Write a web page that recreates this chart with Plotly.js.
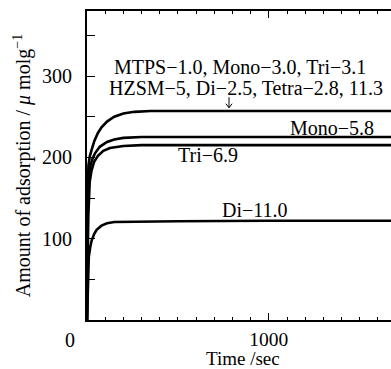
<!DOCTYPE html>
<html>
<head>
<meta charset="utf-8">
<script src="https://cdn.plot.ly/plotly-3.0.1.min.js"></script>
<style>html,body{margin:0;padding:0;background:#fff;overflow:hidden;}</style>
</head>
<body>
<div id="chart" style="width:391px;height:369px;"></div>
<script>
// Data (time in s, amount in µmol/g)
const seriesNames = ["MTPS-1.0, Mono-3.0, Tri-3.1, HZSM-5, Di-2.5, Tetra-2.8, 11.3", "Mono-5.8", "Tri-6.9", "Di-11.0"];
const t1 = [0, 3, 8, 15, 25, 40, 60, 80, 110, 150, 200, 260, 350, 500, 1000, 2000];
const y1 = [0, 150, 190, 201, 209, 220, 230, 237, 244, 250, 254, 256, 257, 257, 257, 257];
const t2 = [0, 5, 12, 20, 30, 44, 70, 110, 150, 200, 300, 1000, 2000];
const y2 = [0, 140, 180, 191, 198, 205, 213, 219, 222, 224, 225, 225, 225];
const t3 = [0, 7, 15, 25, 40, 60, 90, 126, 200, 300, 1000, 2000];
const y3 = [0, 128, 170, 184, 195, 202, 208, 211.5, 214, 215, 215, 215];
const t4 = [0, 5, 10, 18, 26, 40, 53, 80, 110, 150, 250, 500, 1000, 2000];
const y4 = [0, 55, 78, 90, 98, 106, 111, 116, 119, 120.5, 121, 121.5, 122, 122];
const yTickVals = [100, 200, 300];
const xTickVals = [1000];

const lineStyle = {color: "#000", width: 2.6};
const traces = [
  {x: t1, y: y1, name: seriesNames[0]},
  {x: t2, y: y2, name: seriesNames[1]},
  {x: t3, y: y3, name: seriesNames[2]},
  {x: t4, y: y4, name: seriesNames[3]}
].map(tr => Object.assign(tr, {type: "scatter", mode: "lines", line: lineStyle, showlegend: false, hoverinfo: "skip"}));

const serif = "Liberation Serif, Times New Roman, serif";
const fs = 20;
const layout = {
  width: 391, height: 369,
  margin: {l: 87, r: 0, t: 11, b: 49},
  paper_bgcolor: "#fff", plot_bgcolor: "#fff",
  font: {family: serif, size: fs, color: "#000"},
  showlegend: false,
  xaxis: {
    range: [0, 1672], showgrid: false, zeroline: false,
    showline: true, linewidth: 2, linecolor: "#000", mirror: "ticks",
    ticks: "inside", ticklen: 7, tickwidth: 1, tickcolor: "#000",
    tickvals: xTickVals, ticklabelstandoff: 1,
    minor: {dtick: 100, tick0: 0, ticks: "inside", ticklen: 3, tickwidth: 1, tickcolor: "#000"},
    tickfont: {family: serif, size: 19.5}
  },
  yaxis: {
    range: [0, 380], showgrid: false, zeroline: false,
    showline: true, linewidth: 2, linecolor: "#000", mirror: false,
    ticks: "inside", ticklen: 8, tickwidth: 1, tickcolor: "#000",
    tickvals: yTickVals, ticklabelstandoff: 9,
    minor: {dtick: 50, tick0: 0, ticks: "inside", ticklen: 8, tickwidth: 1, tickcolor: "#000"},
    tickfont: {family: serif, size: fs},
    title: {text: "Amount of adsorption / <i>μ</i> molg<sup>−1</sup>", font: {family: serif, size: fs}, standoff: 6}
  },
  shapes: [
    {type: "line", xref: "x", yref: "y", x0: 781, x1: 781, y0: 274, y1: 261, line: {color: "#000", width: 1}},
    {type: "path", xref: "x", yref: "y", path: "M 764,266 L 781,261 L 798,266", line: {color: "#000", width: 1}}
  ],
  annotations: [
    {xref: "paper", yref: "paper", x: -17/304, y: -20/309, xanchor: "center", yanchor: "middle", text: "0", showarrow: false, font: {family: serif, size: fs}},
    {xref: "paper", yref: "paper", x: 156/304, y: -38/309, xanchor: "center", yanchor: "middle", text: "Time /sec", showarrow: false, font: {family: serif, size: 19}},
    {xref: "x", yref: "y", x: 841, y: 311, text: "MTPS−1.0, Mono−3.0, Tri−3.1", showarrow: false, font: {family: serif, size: fs}},
    {xref: "x", yref: "y", x: 875, y: 285, text: "HZSM−5, Di−2.5, Tetra−2.8, 11.3", showarrow: false, font: {family: serif, size: fs}},
    {xref: "x", yref: "y", x: 1347, y: 236, text: "Mono−5.8", showarrow: false, font: {family: serif, size: fs}},
    {xref: "x", yref: "y", x: 665, y: 203, text: "Tri−6.9", showarrow: false, font: {family: serif, size: fs}},
    {xref: "x", yref: "y", x: 924, y: 135, text: "Di−11.0", showarrow: false, font: {family: serif, size: fs}}
  ]
};

Plotly.newPlot("chart", traces, layout, {staticPlot: true, displayModeBar: false});
</script>
</body>
</html>
